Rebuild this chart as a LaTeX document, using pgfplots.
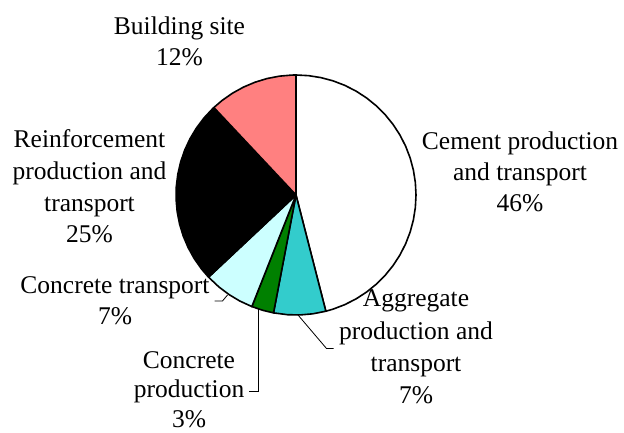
\documentclass[border=0pt]{standalone}
\usepackage{fontspec}
\setmainfont{Liberation Serif}
\usepackage{pgfplots}
\pgfplotsset{compat=1.18}

\definecolor{sitepink}{HTML}{FF8080}
\definecolor{aggteal}{HTML}{33CCCC}
\definecolor{prodgreen}{HTML}{008000}
\definecolor{transcyan}{HTML}{CCFFFF}

\begin{document}
\begin{tikzpicture}
% pie slices, clockwise from 12 o'clock: angle (deg) = 90 - 3.6*percent
\begin{axis}[
    at={(296bp,-195bp)}, anchor=center,
    width=240bp, height=240bp, scale only axis,
    hide axis, clip=false,
    xmin=-1, xmax=1, ymin=-1, ymax=1,
    every axis plot/.append style={line width=1.6bp, draw=black, line join=round},
]
% Cement production and transport 46%  (0 -> 46)
\addplot[data cs=polar, fill=white] coordinates {
  (0,0) (90,1) (84,1) (78,1) (72,1) (66,1) (60,1) (54,1) (48,1) (42,1) (36,1)
  (30,1) (24,1) (18,1) (12,1) (6,1) (0,1) (-6,1) (-12,1) (-18,1) (-24,1)
  (-30,1) (-36,1) (-42,1) (-48,1) (-54,1) (-60,1) (-66,1) (-72,1) (-75.6,1)} -- cycle;
% Aggregate production and transport 7%  (46 -> 53)
\addplot[data cs=polar, fill=aggteal] coordinates {
  (0,0) (-75.6,1) (-82,1) (-88,1) (-94,1) (-100.8,1)} -- cycle;
% Concrete production 3%  (53 -> 56)
\addplot[data cs=polar, fill=prodgreen] coordinates {
  (0,0) (-100.8,1) (-106,1) (-111.6,1)} -- cycle;
% Concrete transport 7%  (56 -> 63)
\addplot[data cs=polar, fill=transcyan] coordinates {
  (0,0) (-111.6,1) (-118,1) (-124,1) (-130,1) (-136.8,1)} -- cycle;
% Reinforcement production and transport 25%  (63 -> 88)
\addplot[data cs=polar, fill=black] coordinates {
  (0,0) (-136.8,1) (-142,1) (-148,1) (-154,1) (-160,1) (-166,1) (-172,1)
  (-178,1) (-184,1) (-190,1) (-196,1) (-202,1) (-208,1) (-214,1) (-220,1)
  (-226,1) (-226.8,1)} -- cycle;
% Building site 12%  (88 -> 100)
\addplot[data cs=polar, fill=sitepink] coordinates {
  (0,0) (-226.8,1) (-232,1) (-238,1) (-244,1) (-250,1) (-256,1) (-262,1)
  (-268,1) (-270,1)} -- cycle;
\end{axis}

\begin{scope}[x=1bp, y=-1bp,
    lbl/.style={anchor=base, inner sep=0pt, font=\fontsize{25.5bp}{31bp}\selectfont}]
% Building site
\node[lbl] at (179.5,35) {Building site};
\node[lbl] at (179.5,66) {12\%};
% Cement
\node[lbl] at (520,149.3) {Cement production};
\node[lbl] at (520,181) {and transport};
\node[lbl] at (520,212) {46\%};
% Reinforcement
\node[lbl] at (89.5,148) {Reinforcement};
\node[lbl] at (89.5,180) {production and};
\node[lbl] at (89.5,212) {transport};
\node[lbl] at (89.5,243) {25\%};
% Concrete transport
\node[lbl] at (115,293.5) {Concrete transport};
\node[lbl] at (115,324.5) {7\%};
% Concrete production
\node[lbl] at (189,368) {Concrete};
\node[lbl] at (189,397.5) {production};
\node[lbl] at (189,427) {3\%};
% Aggregate
\node[lbl] at (416,307) {Aggregate};
\node[lbl] at (416,339.5) {production and};
\node[lbl] at (416,371) {transport};
\node[lbl] at (416,403) {7\%};
% leader lines
\draw[line width=0.8bp] (227.5,295) -- (222.5,301) -- (214.5,301);
\draw[line width=0.8bp] (258.3,309) -- (258.3,391.5) -- (248.5,391.5);
\draw[line width=0.8bp] (298,315) -- (326.5,348.5) -- (333.5,348.5);
\pgfresetboundingbox
\path[use as bounding box] (0,0) rectangle (624,433);
\end{scope}
\end{tikzpicture}
\end{document}
